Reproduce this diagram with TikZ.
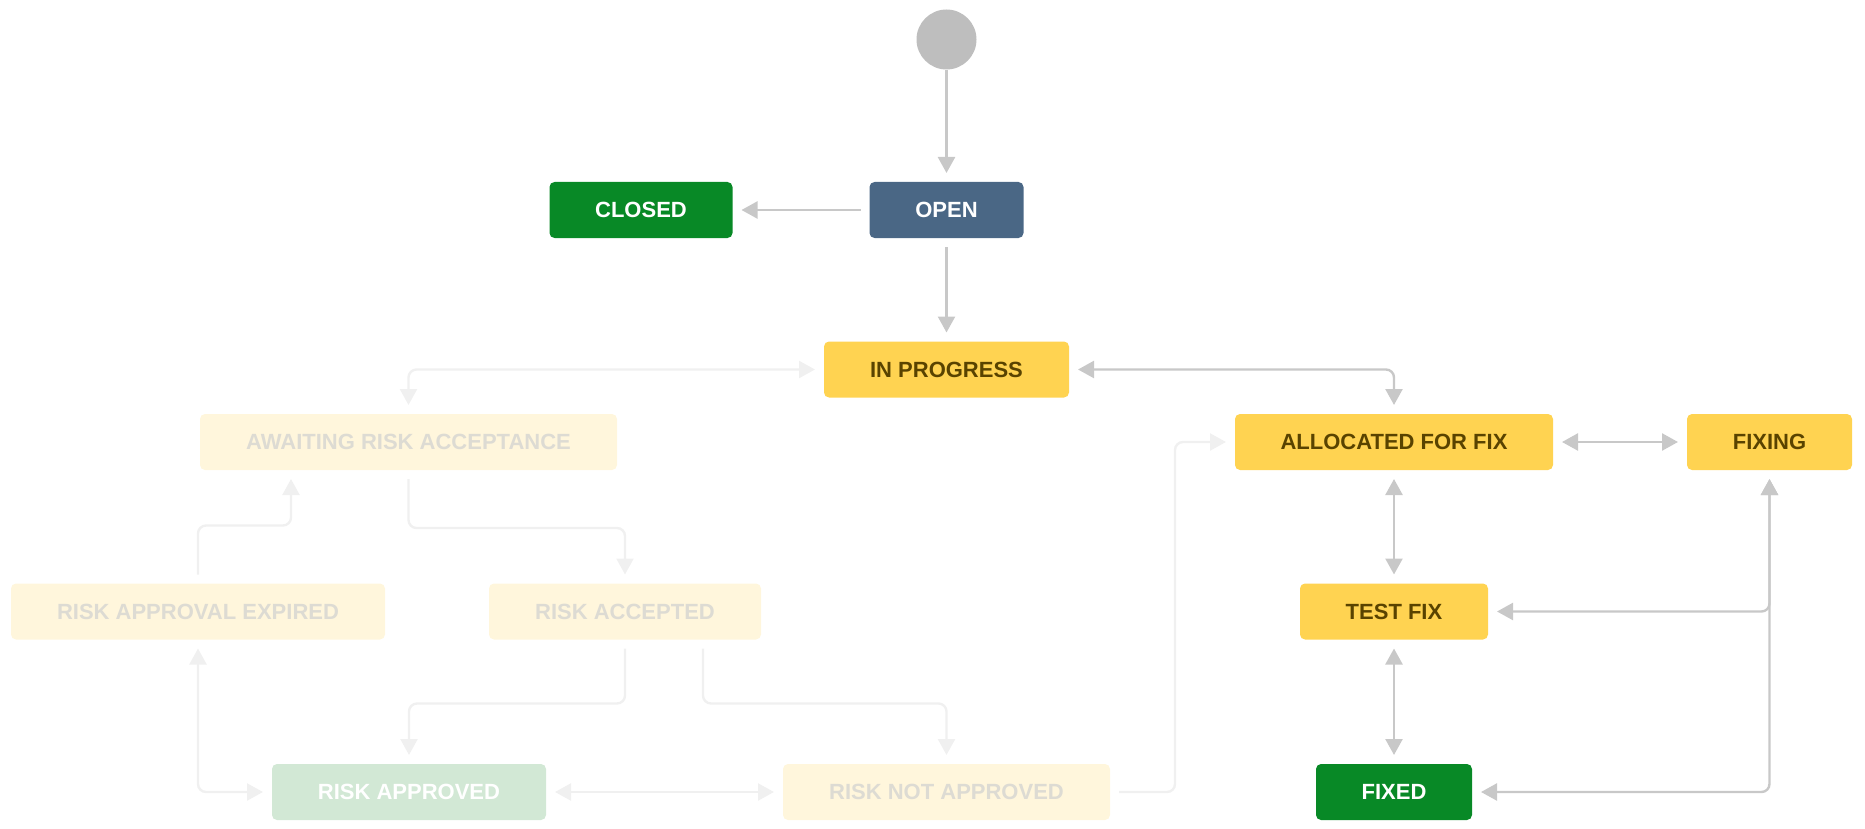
\documentclass[tikz,border=0pt]{standalone}
\usepackage{fontspec}
\setmainfont{Liberation Sans}
\usetikzlibrary{calc,arrows.meta}
\tikzset {>={Triangle[length=8pt,width=8.5pt]}}

\definecolor{jblue}{RGB}{74,103,133}
\definecolor{jgreen}{RGB}{8,137,38}
\definecolor{jyellow}{RGB}{255,211,81}
\definecolor{jbrown}{RGB}{89,67,0}
\definecolor{jyellowfade}{RGB}{255,246,220}
\definecolor{jgreenfade}{RGB}{210,232,213}
\definecolor{jtextfade}{RGB}{221,219,211}
\definecolor{jline}{RGB}{200,200,200}
\definecolor{jlinefade}{RGB}{240,240,240}
\definecolor{jstart}{RGB}{190,190,190}

\tikzset{
  state/.style={rectangle,rounded corners=2.5pt,minimum height=28pt,inner sep=0pt,
    outer sep=4.5pt,font=\fontsize{11pt}{13pt}\selectfont\bfseries},
  todo/.style={state,fill=jblue,text=white},
  done/.style={state,fill=jgreen,text=white},
  busy/.style={state,fill=jyellow,text=jbrown},
  busyfade/.style={state,fill=jyellowfade,text=jtextfade},
  donefade/.style={state,fill=jgreenfade,text=white},
  flow/.style={draw=jline,line width=1.2pt,rounded corners=4pt},
  flowfade/.style={flow,draw=jlinefade},
}

\begin{document}
\begin{tikzpicture}[x=0.5pt,y=-0.5pt]
\useasboundingbox (0,0) rectangle (1865,829);

% Start and the top row
\node (start) at (946.5,39.5) [circle,fill=jstart,minimum size=30pt,inner sep=0pt] {};
\node (open) at (946.5,210) [todo,minimum width=77pt] {OPEN};
\node (closed) at (641,210) [done,minimum width=91.5pt] {CLOSED};
\node (inprog) at (946.5,369.5) [busy,minimum width=122.5pt] {IN PROGRESS};

% Risk branch (faded)
\node (await) at (408.5,442) [busyfade,minimum width=208.5pt] {AWAITING RISK ACCEPTANCE};
\node (expired) at (198,611.5) [busyfade,minimum width=187pt] {RISK APPROVAL EXPIRED};
\node (accepted) at (625,611.5) [busyfade,minimum width=136pt] {RISK ACCEPTED};
\node (approved) at (409,792) [donefade,minimum width=137pt] {RISK APPROVED};
\node (notappr) at (946.5,792) [busyfade,minimum width=163.5pt] {RISK NOT APPROVED};

% Fix branch
\node (alloc) at (1394,442) [busy,minimum width=159pt] {ALLOCATED FOR FIX};
\node (fixing) at (1769.5,442) [busy,minimum width=82.5pt] {FIXING};
\node (testfix) at (1394,611.5) [busy,minimum width=94pt] {TEST FIX};
\node (fixed) at (1394,792) [done,minimum width=78pt] {FIXED};

% Transitions
\draw[flow,->] (start) -- (open);
\draw[flow,->] (open) -- (closed);
\draw[flow,->] (open) -- (inprog);
\draw[flow,<->] (inprog) -| (alloc);
\draw[flow,<->] (alloc) -- (fixing);
\draw[flow,<->] (alloc) -- (testfix);
\draw[flow,<->] (testfix) -- (fixed);
\draw[flow,<->] (fixing) |- (testfix);
\draw[flow,<->] (fixing) |- (fixed);

% Faded transitions
\draw[flowfade,<->] (await) |- (inprog);
\draw[flowfade,->] (await.south) -- ++(0,49) -| (accepted.north);
\draw[flowfade,->] (expired.north) -- ++(0,-49) -| ($(await.south)+(-117.5,0)$);
\draw[flowfade,->] (accepted.south) -- ++(0,55) -| (approved.north);
\draw[flowfade,->] ($(accepted.south)+(78,0)$) -- ++(0,55) -| (notappr.north);
\draw[flowfade,<->] (expired) |- (approved);
\draw[flowfade,<->] (approved) -- (notappr);
\draw[flowfade,->] (notappr.east) -- ++(56,0) |- (alloc.west);

\end{tikzpicture}
\end{document}
